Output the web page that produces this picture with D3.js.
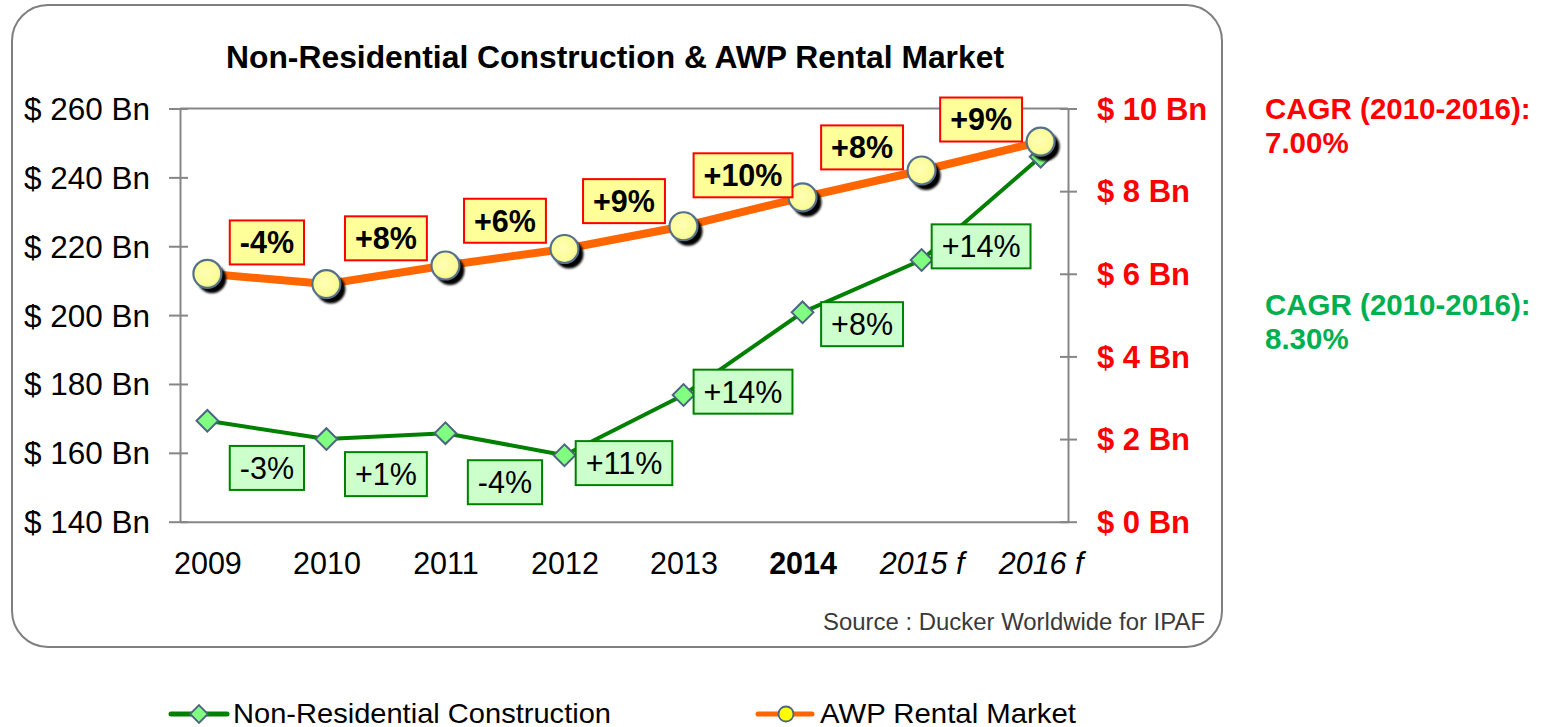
<!DOCTYPE html>
<html>
<head>
<meta charset="utf-8">
<script src="https://cdn.jsdelivr.net/npm/d3@7"></script>
<style>
  html, body { margin: 0; padding: 0; background: #ffffff; }
  svg { display: block; font-family: "Liberation Sans", Arial, sans-serif; }
</style>
</head>
<body>
<svg id="chart" width="1544" height="727"></svg>
<script>
// Years on the x axis, with forecast years flagged
const years = ["2009", "2010", "2011", "2012", "2013", "2014", "2015 f", "2016 f"];
// Non-residential construction spend ($ Bn, left axis)
const construction = [169.3, 164.0, 165.7, 159.3, 176.8, 200.8, 216.0, 246.0];
// AWP rental market ($ Bn, right axis)
const awpRental = [6.0, 5.75, 6.2, 6.6, 7.15, 7.85, 8.5, 9.2];
// Year-on-year growth callouts (one per segment)
const constructionGrowth = ["-3%", "+1%", "-4%", "+11%", "+14%", "+8%", "+14%"];
const awpGrowth = ["-4%", "+8%", "+6%", "+9%", "+10%", "+8%", "+9%"];
// Axis ticks
const leftTicks = [140, 160, 180, 200, 220, 240, 260];
const rightTicks = [0, 2, 4, 6, 8, 10];

const svg = d3.select("#chart");
const FONT = '"Liberation Sans", Arial, sans-serif';

const plot = { left: 180, right: 1068, top: 108.5, bottom: 521.7 };

const x = d3.scalePoint().domain(years).range([plot.left, plot.right]).padding(0.23);
const yL = d3.scaleLinear().domain([140, 260]).range([plot.bottom, plot.top]);
const yR = d3.scaleLinear().domain([0, 10]).range([plot.bottom, plot.top]);

// defs: marker shadow and fill
const defs = svg.append("defs");
const sh = defs.append("filter").attr("id", "shadow").attr("x", "-50%").attr("y", "-50%").attr("width", "200%").attr("height", "200%");
sh.append("feGaussianBlur").attr("stdDeviation", 1.3);
const soft = defs.append("filter").attr("id", "soft").attr("x", "-50%").attr("y", "-50%").attr("width", "200%").attr("height", "200%");
soft.append("feGaussianBlur").attr("stdDeviation", 0.6);
const rg = defs.append("radialGradient").attr("id", "bulb").attr("cx", "45%").attr("cy", "45%").attr("r", "60%");
rg.append("stop").attr("offset", "0%").attr("stop-color", "#ffffb4");
rg.append("stop").attr("offset", "75%").attr("stop-color", "#fbfb98");
rg.append("stop").attr("offset", "100%").attr("stop-color", "#d8dc90");

// rounded frame
svg.append("rect")
  .attr("x", 12).attr("y", 5).attr("width", 1210).attr("height", 642)
  .attr("rx", 36).attr("ry", 36)
  .attr("fill", "#ffffff").attr("stroke", "#7f7f7f").attr("stroke-width", 2);

// title
svg.append("text")
  .attr("x", 615).attr("y", 68)
  .attr("text-anchor", "middle")
  .attr("font-size", 31).attr("font-weight", "bold").attr("fill", "#000")
  .attr("textLength", 778).attr("lengthAdjust", "spacingAndGlyphs")
  .text("Non-Residential Construction & AWP Rental Market");

const axisColor = "#868686";

// plot area top edge
svg.append("line")
  .attr("x1", plot.left).attr("x2", plot.right)
  .attr("y1", plot.top).attr("y2", plot.top)
  .attr("stroke", axisColor).attr("stroke-width", 2);

// left axis
const gL = svg.append("g").attr("transform", `translate(${plot.left},0)`)
  .call(d3.axisLeft(yL).tickValues(leftTicks).tickSize(0).tickPadding(30)
    .tickFormat(d => `$ ${d} Bn`));
gL.select(".domain").attr("stroke", axisColor).attr("stroke-width", 2);
gL.selectAll(".tick").append("line").attr("x1", -11).attr("x2", 8)
  .attr("stroke", axisColor).attr("stroke-width", 2);
gL.selectAll(".tick text").attr("font-family", FONT).attr("font-size", 31.5)
  .attr("fill", "#000").attr("dy", "0.35em");

// right axis
const gR = svg.append("g").attr("transform", `translate(${plot.right},0)`)
  .call(d3.axisRight(yR).tickValues(rightTicks).tickSize(0).tickPadding(29)
    .tickFormat(d => `$ ${d} Bn`));
gR.select(".domain").attr("stroke", axisColor).attr("stroke-width", 2);
gR.selectAll(".tick").append("line").attr("x1", -8).attr("x2", 9)
  .attr("stroke", axisColor).attr("stroke-width", 2);
gR.selectAll(".tick text").attr("font-family", FONT).attr("font-size", 31)
  .attr("font-weight", "bold").attr("fill", "#ff0000").attr("dy", "0.35em");

// bottom axis
const gX = svg.append("g").attr("transform", `translate(0,${plot.bottom})`)
  .call(d3.axisBottom(x).tickSize(0).tickPadding(0));
gX.select(".domain").attr("stroke", axisColor).attr("stroke-width", 2);
gX.selectAll(".tick text")
  .attr("font-family", FONT).attr("font-size", 30.5).attr("fill", "#000")
  .attr("y", 52).attr("dy", 0)
  .attr("font-weight", d => d === "2014" ? "bold" : "normal")
  .attr("font-style", d => d.endsWith("f") ? "italic" : "normal");

// construction series
const ptsC = years.map((yr, i) => [x(yr), yL(construction[i])]);
svg.append("path")
  .attr("d", d3.line()(ptsC))
  .attr("fill", "none").attr("stroke", "#008000").attr("stroke-width", 4)
  .attr("stroke-linejoin", "round");
svg.append("g").selectAll("path.dia").data(ptsC).join("path")
  .attr("class", "dia")
  .attr("d", d3.symbol().type(d3.symbolDiamond2).size(300))
  .attr("transform", d => `translate(${d[0]},${d[1]})`)
  .attr("fill", "#80ff80").attr("stroke", "#4d6482").attr("stroke-width", 2);

// AWP series
const ptsA = years.map((yr, i) => [x(yr), yR(awpRental[i])]);
svg.append("path")
  .attr("d", d3.line()(ptsA))
  .attr("fill", "none").attr("stroke", "#ff6600").attr("stroke-width", 8)
  .attr("stroke-linejoin", "round");
const bulbs = svg.append("g").selectAll("g").data(ptsA).join("g")
  .attr("transform", d => `translate(${d[0]},${d[1]})`);
bulbs.append("circle").attr("cx", 4.5).attr("cy", 5).attr("r", 14.5)
  .attr("fill", "#000").attr("filter", "url(#shadow)");
bulbs.append("circle").attr("r", 14)
  .attr("fill", "url(#bulb)").attr("stroke", "#55708a").attr("stroke-width", 2.2)
  .attr("filter", "url(#soft)");

// growth callouts, centred on each segment
function callouts(pts, labels, dy, opts) {
  const g = svg.append("g");
  labels.forEach((lab, i) => {
    const cx = (pts[i][0] + pts[i + 1][0]) / 2;
    const cy = (pts[i][1] + pts[i + 1][1]) / 2 + dy;
    const t = g.append("text")
      .attr("x", cx).attr("y", cy).attr("dy", "0.36em")
      .attr("text-anchor", "middle")
      .attr("font-size", 30.5).attr("font-weight", opts.weight).attr("fill", "#000")
      .text(lab);
    const w = t.node().getComputedTextLength() + 20;
    const h = 44;
    g.insert("rect", "text")
      .attr("x", cx - w / 2).attr("y", cy - h / 2)
      .attr("width", w).attr("height", h)
      .attr("fill", opts.fill).attr("stroke", opts.stroke).attr("stroke-width", 2);
  });
}
callouts(ptsA, awpGrowth, -36.5, { fill: "#ffff99", stroke: "#ff0000", weight: "bold" });
callouts(ptsC, constructionGrowth, 38, { fill: "#ccffcc", stroke: "#008000", weight: "normal" });

// source note
svg.append("text")
  .attr("x", 1205).attr("y", 630).attr("text-anchor", "end")
  .attr("font-size", 23).attr("fill", "#3a3a3a")
  .attr("textLength", 382).attr("lengthAdjust", "spacingAndGlyphs")
  .text("Source : Ducker Worldwide for IPAF");

// CAGR notes
const cagr = [
  { lines: ["CAGR (2010-2016):", "7.00%"], color: "#ff0000", y: 119 },
  { lines: ["CAGR (2010-2016):", "8.30%"], color: "#00b050", y: 315 }
];
cagr.forEach(c => {
  c.lines.forEach((ln, j) => {
    svg.append("text")
      .attr("x", 1265).attr("y", c.y + j * 34)
      .attr("font-size", 29.5).attr("font-weight", "bold").attr("fill", c.color)
      .text(ln);
  });
});

// legend
const legend = svg.append("g");
legend.append("line").attr("x1", 171).attr("x2", 227).attr("y1", 714).attr("y2", 714)
  .attr("stroke", "#008000").attr("stroke-width", 5).attr("stroke-linecap", "round");
legend.append("path").attr("d", d3.symbol().type(d3.symbolDiamond2).size(200))
  .attr("transform", "translate(199,714)")
  .attr("fill", "#80ff80").attr("stroke", "#4d6482").attr("stroke-width", 1.8);
legend.append("text").attr("x", 233).attr("y", 723)
  .attr("font-size", 28).attr("fill", "#000")
  .attr("textLength", 378).attr("lengthAdjust", "spacingAndGlyphs")
  .text("Non-Residential Construction");
legend.append("line").attr("x1", 758).attr("x2", 812).attr("y1", 714).attr("y2", 714)
  .attr("stroke", "#ff6600").attr("stroke-width", 5).attr("stroke-linecap", "round");
legend.append("circle").attr("cx", 786).attr("cy", 714).attr("r", 7.5)
  .attr("fill", "#ffff00").attr("stroke", "#4d6482").attr("stroke-width", 1.8);
legend.append("text").attr("x", 820).attr("y", 723)
  .attr("font-size", 28).attr("fill", "#000")
  .attr("textLength", 256).attr("lengthAdjust", "spacingAndGlyphs")
  .text("AWP Rental Market");
</script>
</body>
</html>
